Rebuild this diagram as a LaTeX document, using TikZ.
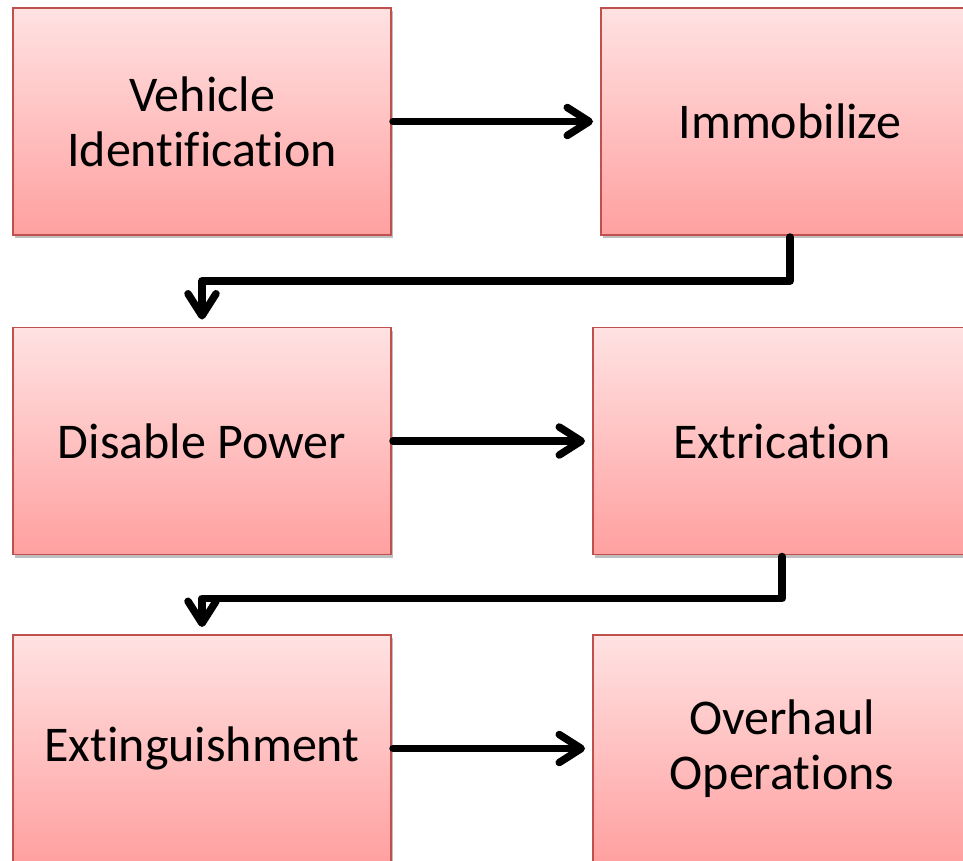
\documentclass[tikz,border=0pt]{standalone}
\usepackage{fontspec}
\setmainfont[Ligatures=NoCommon]{Carlito}
\usetikzlibrary{arrows.meta,shadows,calc}
\definecolor{boxborder}{RGB}{192,80,77}
\definecolor{boxtop}{RGB}{255,226,226}
\definecolor{boxbot}{RGB}{255,160,160}
\tikzset{
  stepbox/.style={draw=boxborder, line width=1.5pt, top color=boxtop, bottom color=boxbot,
    minimum width=378pt, minimum height=227pt, inner sep=0pt, outer sep=0pt, align=center,
    font=\fontsize{50}{55}\selectfont,
    drop shadow={shadow xshift=2pt, shadow yshift=-3pt, opacity=0.25, fill=black}},
  arr/.style={line width=7.5pt, line join=round, line cap=round,
    -{Straight Barb[length=22pt, width=28pt, round]}, shorten >=8pt, shorten <=2pt}
}
\begin{document}
\begin{tikzpicture}[x=1pt,y=-1pt]
\useasboundingbox (0,0) rectangle (963,860);
\clip (0,0) rectangle (963,860);
\fill[white] (0,0) rectangle (963,860);
\node[stepbox] (A) at (202,121.5) {Vehicle\\Identification};
\node[stepbox] (B) at (790,121.5) {Immobilize};
\node[stepbox] (C) at (202,441) {Disable Power};
\node[stepbox] (D) at (782,441) {Extrication};
\node[stepbox] (E) at (202,748.5) {Extinguishment};
\node[stepbox] (F) at (782,748.5) {Overhaul\\Operations};
\draw[arr] (A.east) -- (B.west);
\draw[arr] (B.south) -- ++(0,46) -| (C.north);
\draw[arr] (C.east) -- (D.west);
\draw[arr] (D.south) -- ++(0,44) -| (E.north);
\draw[arr] (E.east) -- (F.west);
\end{tikzpicture}
\end{document}
